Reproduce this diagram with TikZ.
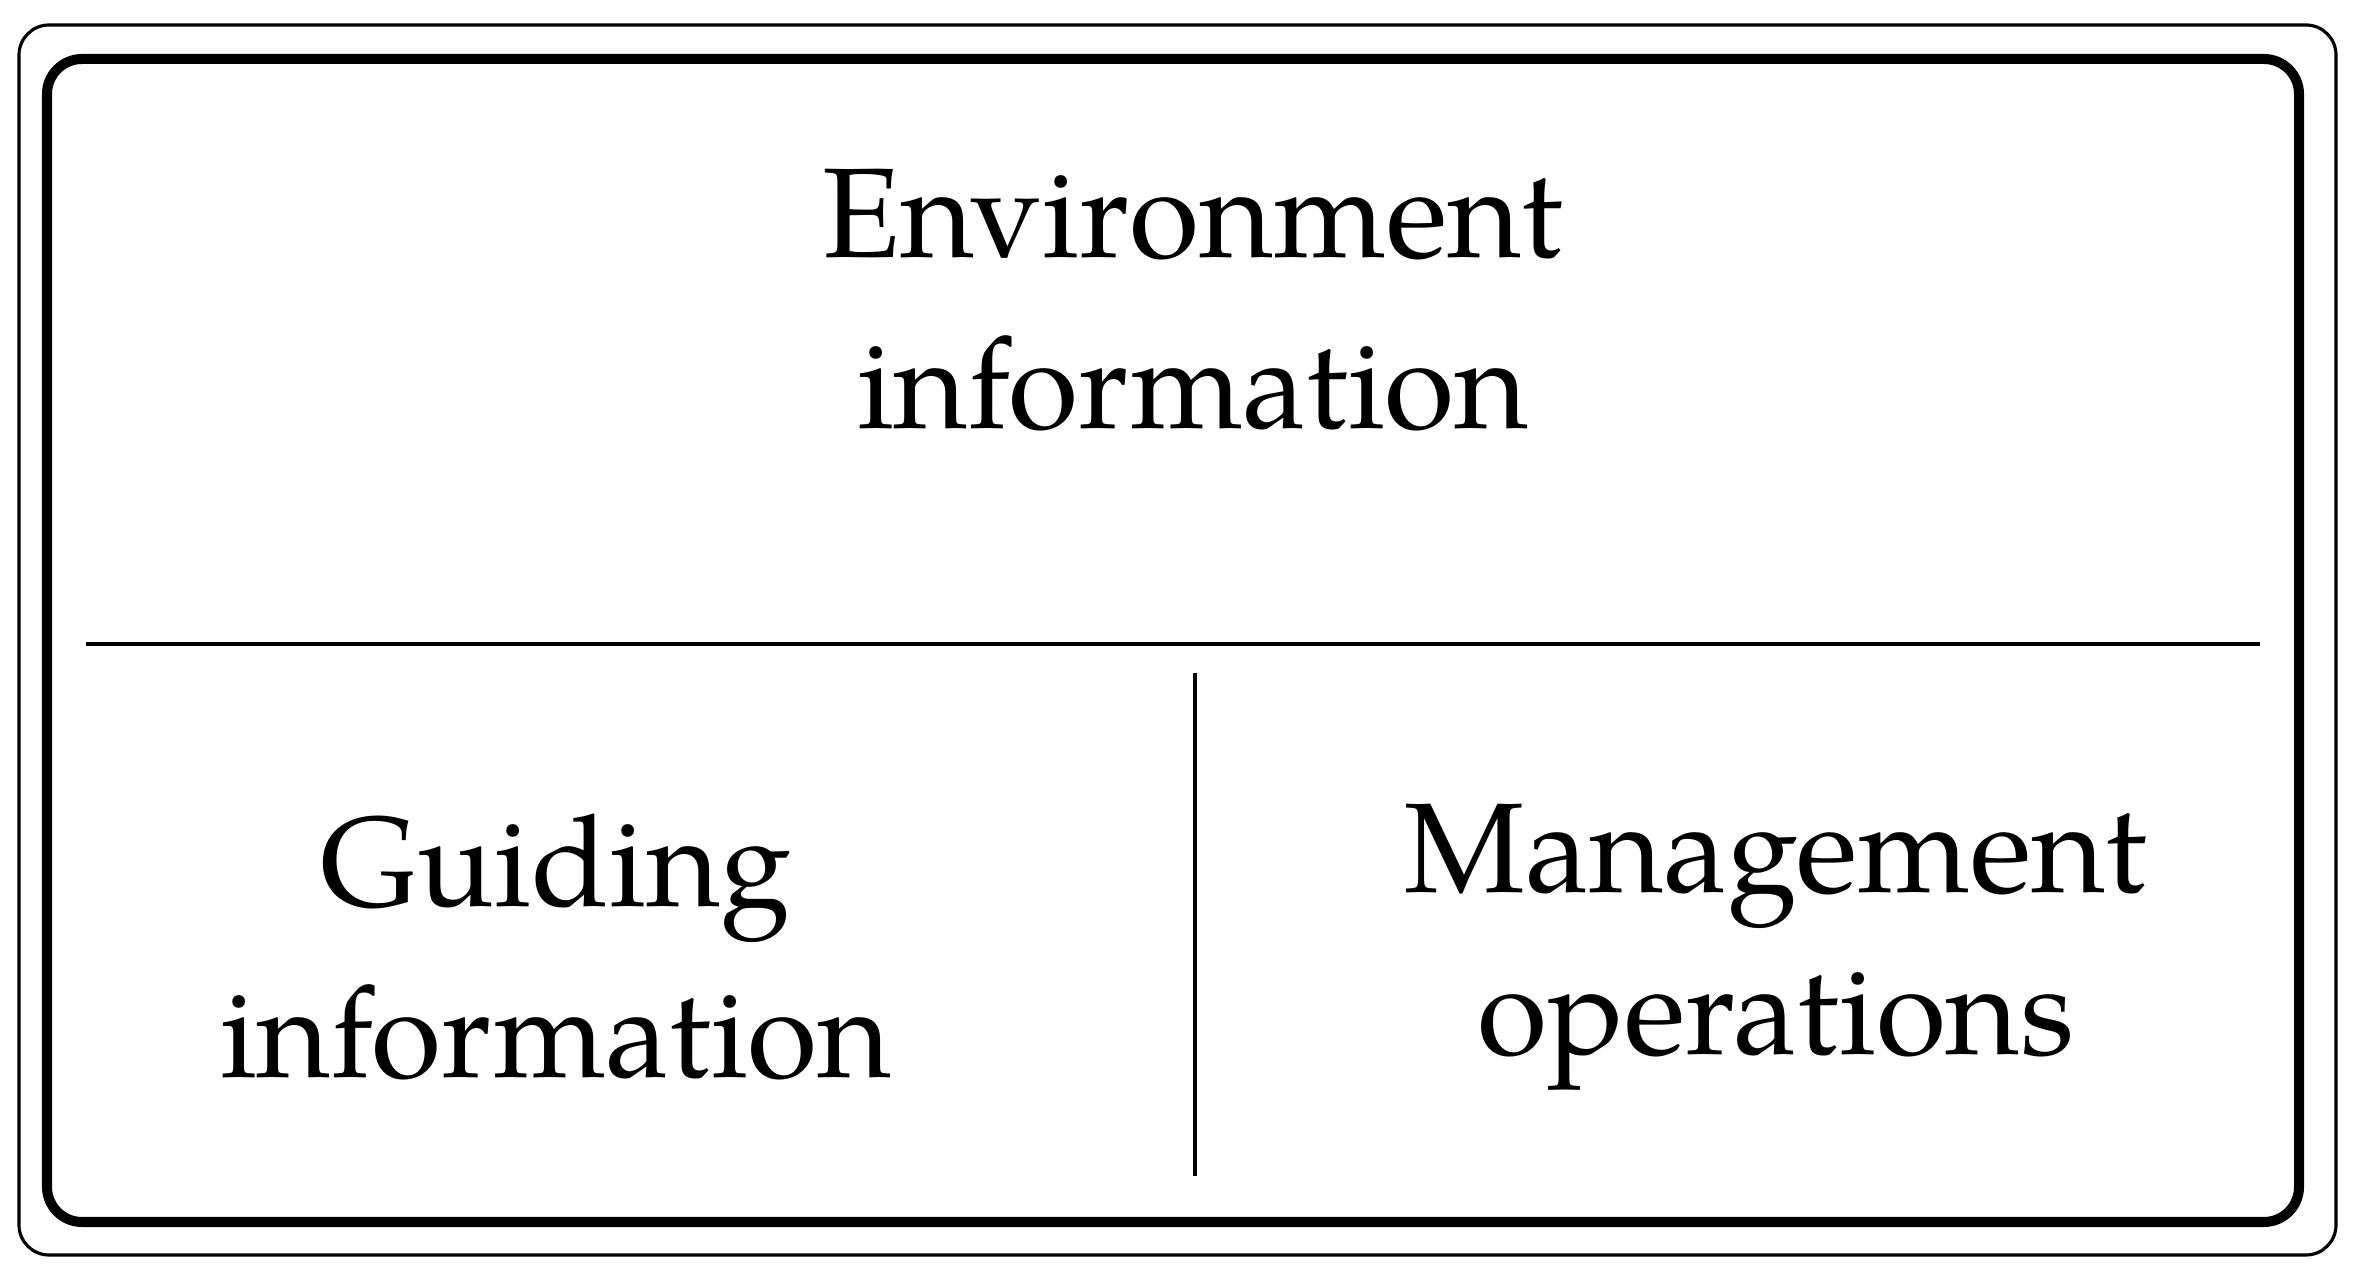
\documentclass[tikz,border=0pt]{standalone}
\usepackage{fontspec}
\setmainfont{texgyrepagella}[Extension=.otf, UprightFont=*-regular, BoldFont=*-bold, ItalicFont=*-italic]
\begin{document}
\begin{tikzpicture}[x=0.01cm,y=-0.01cm,
  outerframe/.style={draw=black, line width=0.9pt, rounded corners=0.30cm},
  innerframe/.style={draw=black, line width=2.85pt, rounded corners=0.35cm},
  divider/.style={draw=black, line width=1.1pt},
  label/.style={font=\fontsize{36.3}{48.4}\selectfont, inner sep=0pt, outer sep=0pt, anchor=base}]
\useasboundingbox (0,0) rectangle (2360,1271);
\draw[outerframe] (19,25) rectangle (2336,1255);
\draw[innerframe] (47,59) rectangle (2299,1222);
\coordinate (hl) at (86,644);
\coordinate (hr) at (2260,644);
\coordinate (vt) at (1195,673);
\coordinate (vb) at (1195,1176);
\draw[divider] (hl) -- (hr);
\draw[divider] (vt) -- (vb);
\node[label] (env) at (1193,258) {\begin{tabular}[t]{@{}c@{}}Environment\\information\end{tabular}};
\node[label] (guide) at (556,907) {\begin{tabular}[t]{@{}c@{}}Guiding\\information\end{tabular}};
\node[label] (mgmt) at (1776,893) {\begin{tabular}[t]{@{}c@{}}Management\\[-2.6pt]operations\end{tabular}};
\end{tikzpicture}
\end{document}
